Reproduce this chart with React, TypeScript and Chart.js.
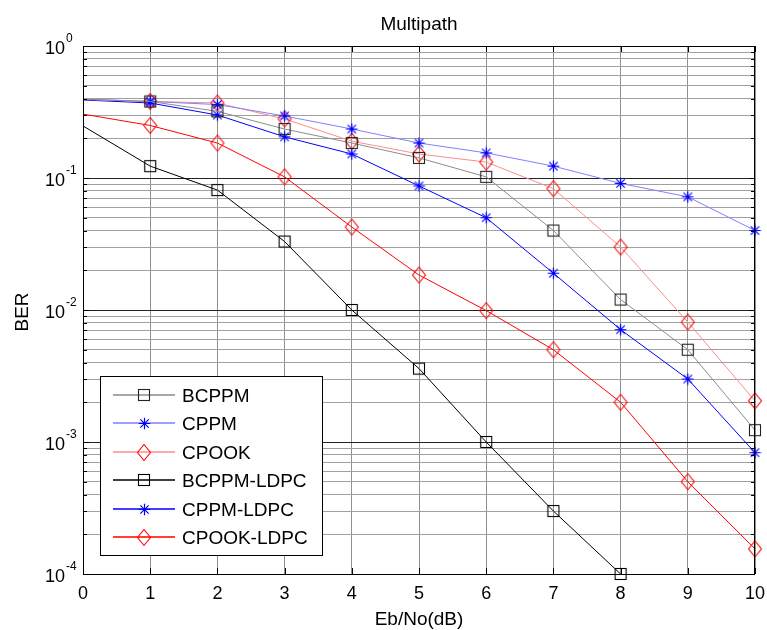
import React, { useEffect, useRef } from 'react';
import { Chart, registerables } from 'chart.js';

Chart.register(...registerables);

// ---------- data ----------
const ebNo = [0, 1, 2, 3, 4, 5, 6, 7, 8, 9, 10];
const bcppm = [0.395, 0.38, 0.32, 0.235, 0.184, 0.142, 0.102, 0.040, 0.012, 0.005, 0.00123];
const cppm = [0.395, 0.38, 0.36, 0.295, 0.235, 0.184, 0.155, 0.123, 0.091, 0.072, 0.040];
const cpook = [0.395, 0.38, 0.37, 0.28, 0.19, 0.152, 0.132, 0.083, 0.030, 0.0081, 0.00205];
const bcppmLdpc = [0.248, 0.123, 0.081, 0.033, 0.010, 0.0036, 0.001, 0.0003, 0.0001];
const cppmLdpc = [0.39, 0.37, 0.30, 0.205, 0.152, 0.087, 0.050, 0.019, 0.0071, 0.003, 0.00083];
const cpookLdpc = [0.305, 0.25, 0.184, 0.102, 0.0425, 0.0184, 0.0099, 0.005, 0.002, 0.0005, 0.000155];

const seriesNames = ['BCPPM', 'CPPM', 'CPOOK', 'BCPPM-LDPC', 'CPPM-LDPC', 'CPOOK-LDPC'];
const xTicks = [0, 1, 2, 3, 4, 5, 6, 7, 8, 9, 10];
const yDecades = [-4, -3, -2, -1, 0];

const FONT = '"Liberation Sans", Arial, Helvetica, sans-serif';

// ---------- markers ----------
function squareMarker(color: string) {
  const c = document.createElement('canvas');
  c.width = 14; c.height = 14;
  const g = c.getContext('2d')!;
  g.strokeStyle = color; g.lineWidth = 1.1;
  g.strokeRect(1.5, 1.5, 11, 11);
  return c;
}
function diamondMarker(color: string) {
  const c = document.createElement('canvas');
  c.width = 16; c.height = 19;
  const g = c.getContext('2d')!;
  g.strokeStyle = color; g.lineWidth = 1.1;
  g.beginPath();
  g.moveTo(8, 1.5); g.lineTo(14.5, 9.5); g.lineTo(8, 17.5); g.lineTo(1.5, 9.5); g.closePath();
  g.stroke();
  return c;
}
function starMarker(color: string) {
  const c = document.createElement('canvas');
  c.width = 13; c.height = 13;
  const g = c.getContext('2d')!;
  g.strokeStyle = color; g.lineWidth = 1.2;
  const m = 6.5, r = 5.8, d = r * 0.72;
  g.beginPath();
  g.moveTo(m - r, m); g.lineTo(m + r, m);
  g.moveTo(m, m - r); g.lineTo(m, m + r);
  g.moveTo(m - d, m - d); g.lineTo(m + d, m + d);
  g.moveTo(m - d, m + d); g.lineTo(m + d, m - d);
  g.stroke();
  return c;
}

function toPts(vals: number[]) {
  return vals.map((v, i) => ({ x: ebNo[i], y: v }));
}

export default function App() {
  const ref = useRef<HTMLCanvasElement | null>(null);

  useEffect(() => {
    const canvas = ref.current;
    if (!canvas) return;

    const sqBlack = squareMarker('#000000');
    const sqDark = squareMarker('#222222');
    const starBlue = starMarker('#0000ff');
    const diaRed = diamondMarker('#ff0000');

    const styles = [
      { data: bcppm, line: '#8c8c8c', marker: sqDark },
      { data: cppm, line: '#8080ff', marker: starBlue },
      { data: cpook, line: '#ff8c8c', marker: diaRed },
      { data: bcppmLdpc, line: '#000000', marker: sqBlack },
      { data: cppmLdpc, line: '#0000ff', marker: starBlue },
      { data: cpookLdpc, line: '#ff0000', marker: diaRed },
    ];

    const datasets = styles.map((s, k) => ({
      label: seriesNames[k],
      data: toPts(s.data),
      borderColor: s.line,
      backgroundColor: s.line,
      borderWidth: 1,
      pointStyle: s.marker as any,
      pointRadius: (c: any) => (c.dataIndex === 0 ? 0 : 6),
      pointHoverRadius: (c: any) => (c.dataIndex === 0 ? 0 : 6),
      tension: 0,
      clip: false as any,
      fill: false,
    }));

    const yTickValues: number[] = [];
    for (let e = -4; e < 0; e++) {
      for (let m = 1; m <= 9; m++) yTickValues.push(+(m * Math.pow(10, e)).toPrecision(3));
    }
    yTickValues.push(1);

    const isDecade = (v: number) => {
      const l = Math.log10(v);
      return Math.abs(l - Math.round(l)) < 1e-6;
    };

    const decor = {
      id: 'decor',
      afterDatasetsDraw(chart: any) {
        const ctx = chart.ctx as CanvasRenderingContext2D;
        const area = chart.chartArea;
        const xs = chart.scales.x;
        const ys = chart.scales.y;
        ctx.save();
        ctx.setLineDash([]);

        // inner tick marks
        ctx.strokeStyle = '#000';
        ctx.lineWidth = 1;
        ctx.beginPath();
        xTicks.forEach((t) => {
          const px = Math.round(xs.getPixelForValue(t)) + 0.5;
          ctx.moveTo(px, area.bottom); ctx.lineTo(px, area.bottom - 6);
          ctx.moveTo(px, area.top); ctx.lineTo(px, area.top + 6);
        });
        yTickValues.forEach((v) => {
          const py = Math.round(ys.getPixelForValue(v)) + 0.5;
          const len = isDecade(v) ? 6 : 4;
          ctx.moveTo(area.left, py); ctx.lineTo(area.left + len, py);
          ctx.moveTo(area.right, py); ctx.lineTo(area.right - len, py);
        });
        ctx.stroke();

        // frame
        ctx.strokeStyle = '#000';
        ctx.lineWidth = 1;
        ctx.strokeRect(Math.round(area.left) + 0.5, Math.round(area.top) + 0.5,
          Math.round(area.right - area.left) - 1, Math.round(area.bottom - area.top));

        // legend
        const lx = 100, ly = 376, lw = 222, lh = 179;
        ctx.fillStyle = '#ffffff';
        ctx.fillRect(lx, ly, lw, lh);
        ctx.strokeStyle = '#000';
        ctx.lineWidth = 1;
        ctx.strokeRect(lx + 0.5, ly + 0.5, lw, lh);
        ctx.font = `19px ${FONT}`;
        ctx.textAlign = 'left';
        ctx.textBaseline = 'alphabetic';
        styles.forEach((s, k) => {
          const cy = Math.round(395 + k * 28.4);
          ctx.fillStyle = s.line;
          ctx.fillRect(113, cy - 0.75, 62, 1.5);
          const mk = s.marker;
          ctx.drawImage(mk, Math.round(144 - mk.width / 2), Math.round(cy - mk.height / 2));
          ctx.fillStyle = '#000';
          ctx.fillText(seriesNames[k], 182, cy + 7);
        });

        // title & axis titles
        ctx.fillStyle = '#000';
        ctx.font = `19px ${FONT}`;
        ctx.textAlign = 'center';
        ctx.fillText('Multipath', (area.left + area.right) / 2, 30);
        ctx.fillText('Eb/No(dB)', (area.left + area.right) / 2, 625);
        ctx.save();
        ctx.translate(28, (area.top + area.bottom) / 2 + 2);
        ctx.rotate(-Math.PI / 2);
        ctx.fillText('BER', 0, 0);
        ctx.restore();

        // x tick labels
        ctx.font = `18px ${FONT}`;
        ctx.textAlign = 'center';
        xTicks.forEach((t) => {
          ctx.fillText(String(t), xs.getPixelForValue(t), 599);
        });

        // y tick labels 10^e
        yDecades.forEach((e) => {
          const py = ys.getPixelForValue(Math.pow(10, e));
          ctx.font = `18px ${FONT}`;
          ctx.textAlign = 'right';
          ctx.fillText('10', 65, py + 8);
          ctx.font = `12px ${FONT}`;
          ctx.textAlign = 'left';
          ctx.fillText(String(e), 66, py - 4);
        });

        ctx.restore();
      },
    };

    const chart = new Chart(canvas, {
      type: 'line',
      data: { datasets: datasets as any },
      options: {
        responsive: false,
        animation: false,
        events: [],
        layout: { padding: { left: 0, top: 46, right: 12, bottom: 0 } },
        plugins: {
          legend: { display: false },
          title: { display: false },
          tooltip: { enabled: false },
        },
        scales: {
          x: {
            type: 'linear',
            min: 0,
            max: 10,
            afterBuildTicks: (s: any) => { s.ticks = xTicks.map((v) => ({ value: v })); },
            afterFit: (s: any) => { s.height = 56; },
            ticks: { display: false },
            border: { display: false },
            grid: {
              drawTicks: false,
              color: '#909090',
              lineWidth: 1,
            },
          },
          y: {
            type: 'logarithmic',
            min: 1e-4,
            max: 1,
            afterBuildTicks: (s: any) => { s.ticks = yTickValues.map((v) => ({ value: v })); },
            afterFit: (s: any) => { s.width = 83; },
            ticks: { display: false },
            border: { display: false },
            grid: {
              drawTicks: false,
              color: (c: any) => (c.tick && isDecade(c.tick.value) ? '#222222' : '#a0a0a0'),
              lineWidth: 1,
            },
          },
        },
      } as any,
      plugins: [decor],
    });

    return () => chart.destroy();
  }, []);

  return (
    <div style={{ position: 'fixed', left: 0, top: 0, width: 767, height: 630, background: '#fff' }}>
      <canvas ref={ref} width={767} height={630} style={{ display: 'block', width: 767, height: 630 }} />
    </div>
  );
}
